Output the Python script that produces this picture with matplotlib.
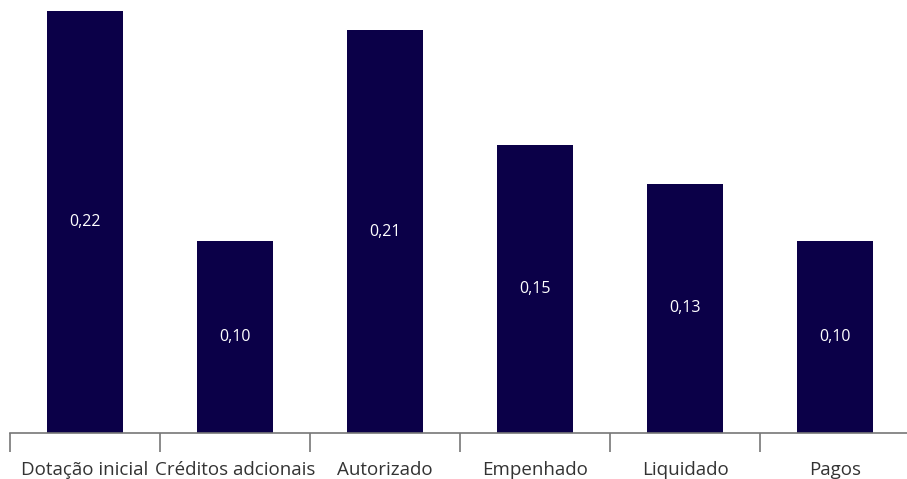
import matplotlib
matplotlib.use("Agg")
import matplotlib.pyplot as plt
import numpy as np

categories = ["Dotação inicial", "Créditos adcionais", "Autorizado",
              "Empenhado", "Liquidado", "Pagos"]
values = [0.22, 0.10, 0.21, 0.15, 0.13, 0.10]
value_labels = ["0,22", "0,10", "0,21", "0,15", "0,13", "0,10"]

plt.rcParams["font.family"] = ["Open Sans", "DejaVu Sans"]

W, H = 907, 479
fig = plt.figure(figsize=(W / 100, H / 100), dpi=100)
ax = fig.add_axes([10 / W, 46 / H, 900 / W, 422 / H])

x = np.arange(len(categories))
bar_color = "#0b0048"
ax.bar(x, values, width=0.51, color=bar_color, zorder=2)

for xi, v, lab in zip(x, values, value_labels):
    ax.text(xi, v / 2, lab, ha="center", va="center", color="white", fontsize=11.5)

ax.set_xlim(-0.5, len(categories) - 0.5)
ax.set_ylim(0, 0.22)

for side in ["top", "right", "left"]:
    ax.spines[side].set_visible(False)
ax.spines["bottom"].set_color("#777777")
ax.spines["bottom"].set_linewidth(1.2)
ax.spines["bottom"].set_zorder(3)

ax.set_yticks([])
ax.set_xticks(np.arange(-0.5, len(categories) - 0.5, 1.0))
ax.set_xticklabels([])
ax.tick_params(axis="x", length=14, width=1.2, color="#777777", direction="out")
ax.set_xticks(x, minor=True)
ax.set_xticklabels(categories, minor=True, fontsize=13.5, color="#333333")
ax.tick_params(axis="x", which="minor", length=0, pad=20)

fig.savefig("out.png", dpi=100)
